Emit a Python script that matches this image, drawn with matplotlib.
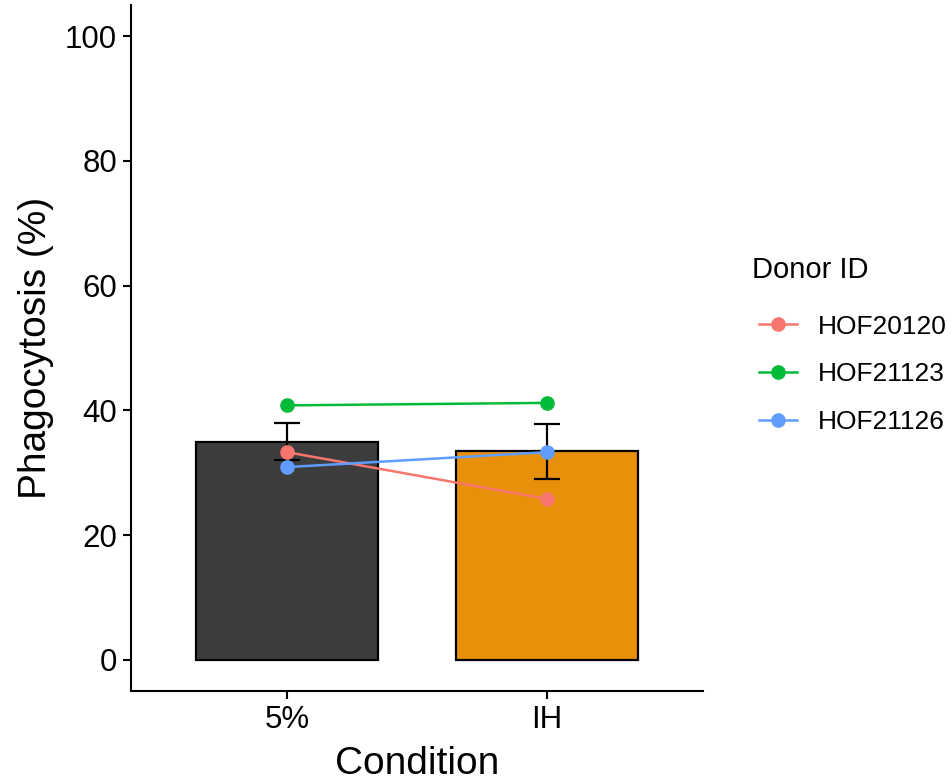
import numpy as np
import matplotlib
matplotlib.use("Agg")
import matplotlib.pyplot as plt

plt.rcParams['font.family'] = ['Liberation Sans', 'DejaVu Sans']

# data
conditions = ['5%', 'IH']
donors = ['HOF20120', 'HOF21123', 'HOF21126']
donor_values = {
    'HOF20120': [33.3, 25.8],
    'HOF21123': [40.8, 41.2],
    'HOF21126': [30.9, 33.3],
}
donor_colors = ['#F8766D', '#00BA38', '#619CFF']
bar_colors = ['#3d3d3d', '#E8900A']

vals = np.array([donor_values[d] for d in donors])
means = vals.mean(axis=0)
se = vals.std(axis=0, ddof=1) / np.sqrt(vals.shape[0])

fig = plt.figure(figsize=(9.53, 7.82), dpi=100)
ax = fig.add_axes([131/953, 1 - 691/782, 572/953, 686/782])

x = np.arange(1, len(conditions) + 1)
ax.bar(x, means, width=0.7, color=bar_colors, edgecolor='black', linewidth=1.6, zorder=1)
ax.errorbar(x, means, yerr=se, fmt='none', ecolor='black', elinewidth=1.6,
            capsize=9.5, capthick=1.6, zorder=2)

handles = []
for d, c in zip(donors, donor_colors):
    h, = ax.plot(x, donor_values[d], color=c, lw=1.8, marker='o', markersize=9.5,
                 zorder=3, label=d)
    handles.append(h)

ax.set_xlim(0.4, 2.6)
ax.set_ylim(-5, 105)
ax.set_xticks(x)
ax.set_xticklabels(conditions)
ax.set_yticks([0, 20, 40, 60, 80, 100])
ax.tick_params(labelsize=22.5, width=1.5, length=6, pad=4, colors='black')
for s in ['top', 'right']:
    ax.spines[s].set_visible(False)
for s in ['left', 'bottom']:
    ax.spines[s].set_linewidth(1.5)

ax.set_xlabel('Condition', fontsize=28, labelpad=8)
ax.set_ylabel('Phagocytosis (%)', fontsize=28, labelpad=8)

# legend title placed separately so the gap can match
fig.text(752/953, 1 - 270/782, 'Donor ID', fontsize=21, ha='left', va='center')
leg = fig.legend(handles=handles, loc='upper left',
                 bbox_to_anchor=(748/953, 1 - 304/782), frameon=False,
                 fontsize=19, handlelength=1.45,
                 handletextpad=0.8, labelspacing=0.9, borderaxespad=0)

fig.savefig('out.png', dpi=100)
